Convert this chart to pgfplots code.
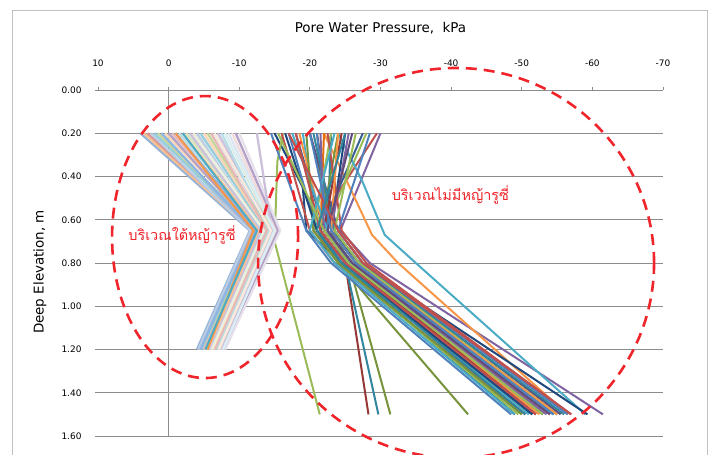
\documentclass[border=0pt]{standalone}
\usepackage{fontspec}
\setmainfont{DejaVu Sans}
\newfontfamily\thaifont[Script=Thai]{Loma}
\usepackage{pgfplots}
\pgfplotsset{compat=1.18}

% Excel 2010 palette, saturated and darker shades (no grass)
\definecolor{nv}{HTML}{1F497D}
\definecolor{bl}{HTML}{4F81BD}
\definecolor{rd}{HTML}{C0504D}
\definecolor{gn}{HTML}{9BBB59}
\definecolor{pu}{HTML}{8064A2}
\definecolor{aq}{HTML}{4BACC6}
\definecolor{or}{HTML}{F79646}
\definecolor{bl2}{HTML}{376092}
\definecolor{rd2}{HTML}{953735}
\definecolor{gn2}{HTML}{77933C}
\definecolor{pu2}{HTML}{604A7B}
\definecolor{aq2}{HTML}{31859C}
\definecolor{or2}{HTML}{E46C0A}
% lighter tints (under ruzi grass)
\definecolor{lb}{HTML}{95B3D7}
\definecolor{lo}{HTML}{FAC090}
\definecolor{lr}{HTML}{D99694}
\definecolor{lb6}{HTML}{B9CDE5}
\definecolor{la}{HTML}{93CDDD}
\definecolor{lg}{HTML}{C3D69B}
\definecolor{lb4}{HTML}{8EB4E3}
\definecolor{lo6}{HTML}{FCD5B5}
\definecolor{lp}{HTML}{B3A2C7}
\definecolor{lr6}{HTML}{E6B9B8}
\definecolor{la6}{HTML}{B7DEE8}
\definecolor{lg6}{HTML}{D7E4BD}
\definecolor{lp6}{HTML}{CCC1DA}
\definecolor{lb8}{HTML}{DCE6F2}
\definecolor{lr8}{HTML}{F2DCDB}
\definecolor{lp8}{HTML}{E6E0EC}
\definecolor{lg8}{HTML}{EBF1DE}
\definecolor{lo8}{HTML}{FDEADA}
\definecolor{la8}{HTML}{DBEEF4}
\definecolor{ann}{HTML}{F0252B}
\definecolor{gridc}{HTML}{8C8C8C}
\definecolor{framec}{HTML}{C0C0C0}

\pgfplotsset{
  L/.style={line width=2.3bp},
  R/.style={line width=2.0bp},
}

\begin{document}
\begin{tikzpicture}
\useasboundingbox (-98bp,-19bp) rectangle (614bp,436bp);
\clip (-98bp,-19bp) rectangle (614bp,436bp);
\fill[white] (-98bp,-19bp) rectangle (614bp,436bp);
\draw[framec, line width=0.8bp] (-86bp,-40bp) rectangle (609bp,426bp);

\begin{axis}[
  at={(0,0)}, anchor=south west,
  scale only axis, width=565bp, height=346bp,
  x dir=reverse, y dir=reverse,
  xmin=-70, xmax=10, ymin=0, ymax=1.6,
  xtick={10,0,-10,-20,-30,-40,-50,-60,-70},
  ytick={0,0.2,0.4,0.6,0.8,1.0,1.2,1.4,1.6},
  xtick pos=right, xticklabel pos=right,
  ytick pos=left,
  tick align=outside, major tick length=3bp,
  tick style={gridc, line width=0.8bp},
  axis line style={draw=none},
  ymajorgrids, grid style={gridc, line width=0.8bp},
  /pgf/number format/assume math mode=true,
  tick label style={font=\fontsize{9}{10}\selectfont},
  xticklabel style={yshift=17bp},
  yticklabel style={xshift=-10bp},
  y tick label style={/pgf/number format/fixed, /pgf/number format/fixed zerofill, /pgf/number format/precision=2},
  clip=false,
]
% vertical line at zero
\draw[gridc, line width=0.8bp] (axis cs:0,0) -- (axis cs:0,1.6);

% ---- no ruzi grass ----
\addplot[R, nv]  coordinates {(-15,0.2) (-19,0.45) (-19.5,0.65) (-24.5,0.8) (-49,1.5)};
\addplot[R, bl]  coordinates {(-17,0.2) (-21,0.65) (-25,0.8) (-52,1.5)};
\addplot[R, rd]  coordinates {(-29.5,0.2) (-20.5,0.65) (-24.5,0.8) (-53,1.5)};
\addplot[R, gn]  coordinates {(-28,0.2) (-22,0.65) (-25.5,0.8) (-50,1.5)};
\addplot[R, pu]  coordinates {(-30,0.2) (-24.3,0.65) (-28.5,0.8) (-61.5,1.5)};
\addplot[R, aq]  coordinates {(-24,0.2) (-27.4,0.42) (-30.6,0.67) (-35,0.8) (-59,1.5)};
\addplot[R, or]  coordinates {(-22,0.2) (-26.8,0.53) (-28.8,0.67) (-32.5,0.8) (-56.5,1.5)};
\addplot[R, bl2] coordinates {(-18,0.2) (-22,0.65) (-26,0.8) (-55,1.5)};
\addplot[R, rd2] coordinates {(-21,0.2) (-23,0.65) (-25,0.8) (-28.3,1.5)};
\addplot[R, aq2] coordinates {(-23,0.2) (-22.5,0.65) (-25,0.8) (-29.7,1.5)};
\addplot[R, gn2] coordinates {(-20,0.2) (-23.5,0.65) (-25.5,0.8) (-31.4,1.5)};
\addplot[R, gn2] coordinates {(-24,0.2) (-21.5,0.65) (-24,0.8) (-42.4,1.5)};
\addplot[R, gn]  coordinates {(-16.2,0.2) (-15.4,0.33) (-15,0.7) (-21.4,1.5)};
\addplot[R, nv]  coordinates {(-25,0.2) (-23,0.65) (-27,0.8) (-59.3,1.5)};
\addplot[R, or2] coordinates {(-22,0.2) (-21.5,0.65) (-25,0.8) (-54,1.5)};
\addplot[R, pu2] coordinates {(-20,0.2) (-24,0.65) (-27.5,0.8) (-55.5,1.5)};
\addplot[R, aq]  coordinates {(-19,0.2) (-21,0.65) (-24.5,0.8) (-51,1.5)};
\addplot[R, rd]  coordinates {(-16,0.2) (-20,0.65) (-23.5,0.8) (-50.5,1.5)};
\addplot[R, bl]  coordinates {(-21,0.2) (-22.5,0.65) (-26,0.8) (-53,1.5)};
\addplot[R, gn]  coordinates {(-23,0.2) (-20.5,0.65) (-24,0.8) (-49.5,1.5)};
\addplot[R, pu]  coordinates {(-25.5,0.2) (-23,0.65) (-26.5,0.8) (-54.5,1.5)};
\addplot[R, or]  coordinates {(-18.5,0.2) (-22,0.65) (-25.5,0.8) (-52.5,1.5)};
\addplot[R, bl2] coordinates {(-27.5,0.2) (-21.5,0.65) (-25,0.8) (-51.5,1.5)};
\addplot[R, aq2] coordinates {(-20.5,0.2) (-23.5,0.65) (-27,0.8) (-56,1.5)};
\addplot[R, rd2] coordinates {(-24.5,0.2) (-22,0.65) (-25.5,0.8) (-52,1.5)};
\addplot[R, bl]  coordinates {(-14.5,0.2) (-19.5,0.65) (-23,0.8) (-48.5,1.5)};
\addplot[R, rd]  coordinates {(-22.5,0.2) (-24.5,0.65) (-28,0.8) (-57,1.5)};
\addplot[R, aq]  coordinates {(-17.5,0.2) (-22.5,0.65) (-26,0.8) (-54.5,1.5)};
\addplot[R, gn]  coordinates {(-26.5,0.2) (-23.5,0.65) (-27,0.8) (-55,1.5)};
\addplot[R, gn2] coordinates {(-19.5,0.2) (-20.5,0.65) (-24,0.8) (-50,1.5)};
\addplot[R, nv]  coordinates {(-16.5,0.2) (-21,0.65) (-24.5,0.8) (-51.5,1.5)};
\addplot[R, pu]  coordinates {(-21.5,0.2) (-22,0.65) (-25.5,0.8) (-53.5,1.5)};
\addplot[R, or]  coordinates {(-24,0.2) (-23,0.65) (-26.5,0.8) (-55,1.5)};
\addplot[R, bl]  coordinates {(-28.5,0.2) (-24,0.65) (-27.5,0.8) (-56.5,1.5)};
\addplot[R, rd]  coordinates {(-18,0.2) (-21.5,0.65) (-25,0.8) (-52,1.5)};
\addplot[R, aq]  coordinates {(-23.5,0.2) (-20,0.65) (-23.5,0.8) (-49,1.5)};
\addplot[R, gn]  coordinates {(-15.5,0.2) (-22,0.65) (-25.5,0.8) (-53,1.5)};
\addplot[R, pu2] coordinates {(-26,0.2) (-22.5,0.65) (-26,0.8) (-54,1.5)};
\addplot[R, bl]  coordinates {(-20,0.2) (-23,0.65) (-26.5,0.8) (-54.5,1.5)};
\addplot[R, rd]  coordinates {(-17,0.2) (-24,0.65) (-27.5,0.8) (-57,1.5)};
\addplot[R, aq2] coordinates {(-25,0.2) (-21,0.65) (-24.5,0.8) (-50.5,1.5)};

% ---- under ruzi grass ----
\addplot[L, lb]  coordinates {(4.0,0.2) (-11.5,0.65) (-4.0,1.2)};
\addplot[L, lo]  coordinates {(3.5,0.2) (-11.8,0.65) (-4.3,1.2)};
\addplot[L, lr]  coordinates {(3.0,0.2) (-12.0,0.65) (-4.6,1.2)};
\addplot[L, lb6] coordinates {(2.5,0.2) (-11.6,0.65) (-4.2,1.2)};
\addplot[L, la]  coordinates {(2.0,0.2) (-12.2,0.65) (-4.8,1.2)};
\addplot[L, lg]  coordinates {(1.5,0.2) (-12.5,0.65) (-5.0,1.2)};
\addplot[L, lb4] coordinates {(1.0,0.2) (-12.0,0.65) (-4.5,1.2)};
\addplot[L, lo6] coordinates {(0.5,0.2) (-12.8,0.65) (-5.2,1.2)};
\addplot[L, lp]  coordinates {(0.0,0.2) (-12.4,0.65) (-5.4,1.2)};
\addplot[L, lr6] coordinates {(-0.5,0.2) (-13.0,0.65) (-5.0,1.2)};
\addplot[L, lb]  coordinates {(-1.0,0.2) (-12.6,0.65) (-5.6,1.2)};
\addplot[L, la6] coordinates {(-1.5,0.2) (-13.2,0.65) (-5.8,1.2)};
\addplot[L, lo]  coordinates {(-2.0,0.2) (-12.9,0.65) (-5.5,1.2)};
\addplot[L, lg6] coordinates {(-2.5,0.2) (-13.4,0.65) (-6.0,1.2)};
\addplot[L, lp6] coordinates {(-3.0,0.2) (-13.1,0.65) (-5.9,1.2)};
\addplot[L, lr]  coordinates {(-3.5,0.2) (-13.6,0.65) (-6.2,1.2)};
\addplot[L, lb6] coordinates {(-4.0,0.2) (-13.3,0.65) (-6.4,1.2)};
\addplot[R, or]  coordinates {(-1.0,0.2) (-12.0,0.65) (-5.5,1.2)};
\addplot[R, aq]  coordinates {(-2.0,0.2) (-12.5,0.65) (-5.2,1.2)};
\addplot[L, la]  coordinates {(-4.5,0.2) (-13.8,0.65) (-6.5,1.2)};
\addplot[L, lo6] coordinates {(-5.0,0.2) (-14.0,0.65) (-6.3,1.2)};
\addplot[L, lg]  coordinates {(-5.5,0.2) (-14.2,0.65) (-6.8,1.2)};
\addplot[L, lr6] coordinates {(-6.0,0.2) (-13.9,0.65) (-6.6,1.2)};
\addplot[L, lb4] coordinates {(-6.5,0.2) (-14.4,0.65) (-7.0,1.2)};
\addplot[L, lp6] coordinates {(-7.0,0.2) (-14.6,0.65) (-7.2,1.2)};
\addplot[L, la6] coordinates {(-7.5,0.2) (-14.3,0.65) (-6.9,1.2)};
\addplot[L, lg6] coordinates {(-8.0,0.2) (-14.8,0.65) (-7.4,1.2)};
\addplot[L, lb8] coordinates {(-8.5,0.2) (-15.0,0.65) (-7.5,1.2)};
\addplot[L, lr8] coordinates {(-9.0,0.2) (-15.2,0.65) (-7.6,1.2)};
\addplot[L, lp]  coordinates {(-9.5,0.2) (-15.5,0.65) (-7.8,1.2)};
\addplot[L, lp8] coordinates {(-10.0,0.2) (-15.8,0.65) (-8.0,1.2)};
\addplot[L, lp6] coordinates {(-12.5,0.2) (-14.6,0.65) (-7.5,1.2)};
\addplot[L, lg8] coordinates {(-3.5,0.2) (-13.5,0.65) (-6.1,1.2)};
\addplot[L, lo8] coordinates {(-6.5,0.2) (-14.5,0.65) (-7.1,1.2)};
\addplot[L, la8] coordinates {(-8.0,0.2) (-15.0,0.65) (-7.7,1.2)};

\coordinate (e1) at (axis cs:-5.16,0.68);
\coordinate (e2) at (axis cs:-40.7,0.80);
\node[ann, font=\thaifont\fontsize{14.5}{16}\selectfont] at (axis cs:-1.9,0.671) {บริเวณใต้หญ้ารูซี่};
\node[ann, font=\thaifont\fontsize{14.5}{16}\selectfont] at (axis cs:-39.9,0.486) {บริเวณไม่มีหญ้ารูซี่};
\end{axis}

\draw[ann, line width=2.6bp, dash pattern=on 11bp off 7bp] (e1) ellipse [x radius=93bp, y radius=141bp];
\draw[ann, line width=2.6bp, dash pattern=on 11bp off 7bp] (e2) ellipse [x radius=198bp, y radius=195bp];

\node[font=\fontsize{13.5}{15}\selectfont] at (282.5bp,408bp) {Pore Water Pressure,\ \ kPa};
\node[rotate=90, font=\fontsize{13.5}{15}\selectfont] at (-58bp,164bp) {Deep Elevation, m};
\end{tikzpicture}
\end{document}
